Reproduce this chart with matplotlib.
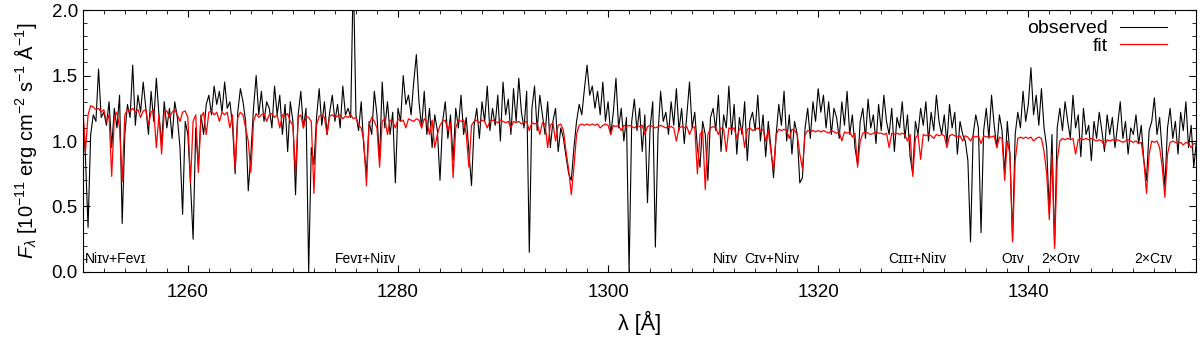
import numpy as np
import matplotlib
matplotlib.use("Agg")
import matplotlib.pyplot as plt
from matplotlib.ticker import MultipleLocator

plt.rcParams['font.family'] = ['Liberation Sans', 'DejaVu Sans']
plt.rcParams['mathtext.fontset'] = 'custom'
plt.rcParams['mathtext.rm'] = 'Liberation Sans'
plt.rcParams['mathtext.it'] = 'Liberation Sans:italic'

# spectrum sampled every 0.25 A starting at 1250 A
wave_start = 1250.0
wave_step = 0.25

observed = [
    1.22, 0.88, 0.34, 1.05, 1.20, 1.15, 1.55, 1.18,
    1.22, 1.12, 1.30, 0.95, 1.25, 1.10, 1.35, 0.37,
    1.05, 1.28, 1.18, 1.58, 1.12, 1.35, 1.22, 1.45,
    1.25, 1.05, 1.38, 1.15, 1.48, 1.20, 0.98, 1.30,
    1.10, 1.25, 1.02, 1.30, 1.18, 0.95, 0.44, 1.15,
    1.05, 0.68, 0.25, 1.10, 0.80, 1.20, 1.05, 1.28,
    1.35, 1.20, 1.42, 1.28, 1.38, 1.22, 1.45, 1.25,
    1.30, 1.12, 0.75, 1.22, 1.40, 1.30, 1.15, 0.62,
    0.90, 1.25, 1.50, 1.20, 1.38, 1.15, 1.30, 1.25,
    1.10, 1.42, 1.20, 1.35, 1.05, 1.28, 0.92, 1.30,
    1.15, 0.59, 1.20, 1.38, 1.10, 1.25, 0.00, 0.95,
    0.82, 1.18, 1.40, 1.12, 1.30, 1.05, 1.22, 1.35,
    1.15, 1.28, 1.10, 1.42, 1.20, 1.25, 1.18, 2.30,
    1.20, 1.08, 1.30, 0.95, 0.75, 1.15, 1.05, 1.38,
    1.20, 0.85, 1.45, 1.10, 1.30, 1.05, 1.22, 0.68,
    1.25, 1.15, 1.50, 1.28, 1.35, 1.20, 1.45, 1.66,
    1.30, 1.10, 1.38, 1.05, 1.25, 0.95, 1.20, 1.08,
    0.70, 1.15, 1.30, 1.02, 1.20, 0.85, 1.25, 1.10,
    1.35, 1.05, 1.18, 0.92, 0.66, 1.12, 1.25, 1.02,
    1.30, 1.15, 1.42, 1.08, 1.25, 1.12, 1.35, 1.00,
    1.45, 1.20, 1.32, 1.05, 1.40, 1.15, 1.48, 1.22,
    1.10, 1.38, 0.15, 1.25, 1.42, 1.08, 1.35, 1.20,
    1.05, 1.30, 0.95, 1.15, 1.25, 0.92, 1.10, 1.02,
    0.88, 0.75, 0.70, 0.95, 1.15, 1.28, 1.20, 1.40,
    1.58, 1.35, 1.42, 1.25, 1.38, 1.20, 1.45, 1.15,
    1.30, 1.05, 1.22, 1.48, 1.10, 1.25, 1.00, 1.18,
    0.00, 1.15, 1.32, 1.08, 1.25, 0.92, 1.20, 0.53,
    1.10, 1.30, 0.19, 1.05, 1.38, 1.15, 1.22, 1.05,
    1.30, 1.12, 1.40, 1.08, 1.25, 0.98, 1.20, 1.45,
    1.10, 1.22, 0.95, 0.80, 1.15, 1.05, 0.70, 1.18,
    1.25, 1.08, 1.35, 0.92, 1.20, 1.10, 1.42, 1.05,
    1.28, 0.90, 1.18, 1.05, 1.30, 0.85, 1.15, 1.22,
    1.08, 1.35, 1.00, 1.20, 0.88, 1.15, 0.95, 0.72,
    1.05, 1.28, 1.12, 1.38, 1.00, 1.20, 0.90, 1.15,
    1.05, 0.68, 0.72, 1.10, 1.25, 1.02, 1.30, 1.15,
    1.40, 1.22, 1.35, 1.10, 1.30, 1.05, 1.25, 1.18,
    1.02, 1.30, 1.12, 1.38, 1.05, 1.20, 0.95, 0.82,
    1.15, 1.25, 1.02, 1.32, 1.10, 1.20, 0.98, 1.28,
    1.08, 1.35, 1.15, 1.05, 1.25, 0.92, 1.18, 1.10,
    1.30, 1.02, 1.20, 0.88, 0.75, 1.15, 1.05, 1.25,
    1.12, 1.30, 1.00, 1.22, 1.08, 1.35, 1.15, 1.05,
    1.20, 0.98, 1.28, 1.10, 1.22, 0.90, 1.15, 1.05,
    1.00, 0.85, 0.23, 1.05, 1.20, 1.10, 0.30, 1.08,
    1.25, 1.02, 1.35, 1.12, 0.95, 1.20, 1.08, 0.75,
    1.15, 0.90, 0.25, 1.05, 1.22, 1.10, 1.38, 1.15,
    1.28, 1.56, 1.20, 1.35, 1.12, 1.40, 1.10, 0.95,
    0.45, 1.05, 0.20, 1.10, 1.25, 1.08, 1.30, 1.15,
    1.02, 1.35, 1.10, 1.20, 0.88, 1.25, 1.05, 1.12,
    0.85, 1.15, 1.02, 1.22, 1.08, 0.92, 1.20, 1.05,
    1.18, 0.95, 1.12, 1.30, 1.02, 1.15, 0.90, 1.10,
    1.05, 1.20, 0.98, 1.12, 0.85, 0.70, 1.08, 1.15,
    1.33, 1.05, 1.18, 0.92, 0.65, 1.10, 1.25, 1.02,
    1.15, 0.90, 1.22, 1.08, 1.30, 0.95, 1.12, 0.80,
    1.00,
]

fit = [
    1.26, 0.92, 1.20, 1.27, 1.26, 1.24, 1.25, 1.22,
    1.24, 1.15, 1.20, 0.73, 1.18, 1.22, 1.10, 0.69,
    1.20, 1.24, 1.23, 1.25, 1.22, 1.24, 1.18, 1.23,
    1.24, 1.12, 1.22, 1.24, 0.95, 1.20, 0.90, 1.22,
    1.23, 1.18, 1.22, 1.24, 1.20, 1.15, 1.22, 1.23,
    1.18, 0.68, 1.15, 1.20, 0.76, 1.18, 1.22, 1.05,
    1.22, 1.23, 1.20, 1.22, 1.15, 1.22, 1.20, 1.22,
    1.10, 1.20, 0.78, 1.18, 1.22, 1.20, 1.10, 1.00,
    0.76, 1.15, 1.21, 1.18, 1.20, 1.21, 1.15, 1.20,
    1.21, 1.18, 1.20, 1.10, 1.20, 1.19, 1.21, 1.15,
    1.12, 0.75, 1.18, 1.20, 1.10, 1.19, 1.18, 1.15,
    0.60, 1.12, 1.19, 1.20, 1.18, 1.05, 1.19, 1.20,
    1.18, 1.19, 1.20, 1.17, 1.19, 1.18, 1.20, 1.17,
    1.18, 1.12, 1.10, 1.00, 0.66, 1.12, 1.18, 1.15,
    1.10, 0.80, 1.15, 1.17, 1.05, 1.16, 1.15, 1.10,
    1.17, 1.15, 1.16, 1.10, 1.17, 1.16, 1.15, 1.17,
    1.16, 1.10, 1.17, 1.15, 1.05, 1.16, 0.95, 1.05,
    1.12, 1.15, 1.16, 1.08, 1.14, 0.72, 1.10, 1.16,
    1.15, 1.16, 1.05, 0.80, 1.12, 1.15, 1.16, 1.14,
    1.16, 1.15, 1.10, 1.15, 1.16, 1.15, 1.14, 1.16,
    1.15, 1.14, 1.15, 1.10, 1.15, 1.14, 1.15, 1.13,
    1.14, 1.15, 1.08, 1.14, 1.13, 1.14, 1.05, 1.14,
    1.13, 0.95, 1.12, 1.14, 1.00, 1.12, 1.13, 1.08,
    0.92, 0.78, 0.59, 0.80, 1.05, 1.12, 1.13, 1.12,
    1.13, 1.12, 1.13, 1.12, 1.13, 1.10, 1.12, 1.13,
    1.12, 1.05, 1.12, 1.11, 1.12, 1.08, 1.12, 1.11,
    1.12, 1.11, 1.10, 1.12, 1.11, 1.12, 1.05, 1.11,
    1.12, 1.11, 1.10, 1.11, 1.12, 1.11, 1.10, 1.11,
    1.11, 1.10, 1.00, 1.10, 1.11, 1.10, 1.11, 1.05,
    1.10, 1.11, 0.75, 1.05, 1.08, 0.63, 1.05, 1.10,
    1.11, 1.10, 1.05, 1.10, 1.09, 0.92, 1.10, 1.09,
    1.10, 1.02, 1.09, 1.10, 0.95, 1.09, 1.10, 1.08,
    1.09, 1.10, 1.08, 1.09, 1.00, 1.08, 0.92, 0.78,
    1.05, 1.09, 1.08, 1.09, 1.08, 1.02, 1.09, 1.08,
    1.05, 0.90, 0.79, 1.05, 1.08, 1.07, 1.08, 1.07,
    1.08, 1.07, 1.08, 1.07, 1.06, 1.08, 1.07, 1.06,
    1.07, 1.00, 1.07, 1.06, 1.07, 1.03, 1.06, 0.80,
    1.00, 1.06, 1.07, 1.06, 1.05, 1.06, 1.07, 1.06,
    1.06, 1.05, 1.06, 0.95, 1.06, 1.05, 1.06, 1.05,
    1.06, 1.05, 1.00, 1.05, 0.73, 1.02, 1.05, 0.86,
    1.05, 1.04, 1.05, 1.04, 1.02, 1.05, 1.04, 1.05,
    1.04, 0.95, 1.04, 1.05, 1.04, 1.03, 1.04, 1.00,
    1.04, 1.03, 1.00, 1.04, 1.03, 1.04, 0.98, 1.04,
    1.03, 1.04, 1.03, 1.04, 0.95, 1.03, 1.02, 0.70,
    1.00, 0.90, 0.23, 0.85, 1.02, 1.03, 1.02, 1.03,
    1.02, 1.03, 1.00, 1.02, 1.03, 1.02, 0.92, 0.75,
    0.40, 0.90, 0.18, 0.85, 1.00, 1.02, 1.01, 1.02,
    1.01, 1.02, 0.90, 1.01, 1.02, 1.01, 1.02, 1.01,
    1.02, 1.01, 1.00, 1.01, 1.00, 0.96, 1.01, 1.00,
    1.01, 1.00, 1.01, 1.00, 0.99, 1.00, 1.01, 1.00,
    0.99, 1.00, 0.98, 0.99, 0.85, 0.60, 0.90, 1.00,
    0.99, 1.00, 0.95, 0.80, 0.57, 0.90, 0.99, 1.00,
    0.99, 0.98, 0.99, 0.97, 0.99, 0.98, 0.95, 0.98,
    0.98,
]

# line identifications along the bottom of the panel
line_ids = ['Niɪᴠ+Feᴠɪ', 'Feᴠɪ+Niɪᴠ', 'Niɪᴠ', 'Cɪᴠ+Niɪᴠ', 'Cɪɪɪ+Niɪᴠ',
            'Oɪᴠ', '2×Oɪᴠ', '2×Cɪᴠ']
line_pos = [1250.2, 1274.0, 1310.0, 1313.0, 1326.7, 1337.4, 1341.2, 1350.1]

wave = wave_start + wave_step * np.arange(len(observed))

fig = plt.figure(figsize=(12, 3.37), dpi=100)
ax = fig.add_axes([0.069, 0.193, 0.928, 0.777])

ax.plot(wave, observed, color='black', lw=0.8, label='observed')
ax.plot(wave, fit, color='red', lw=0.9, label='fit')

for lab, x in zip(line_ids, line_pos):
    ax.text(x, 0.045, lab, fontsize=10, ha='left', va='bottom')

ax.set_xlim(1250, 1356)
ax.set_ylim(0, 2.0)
ax.xaxis.set_major_locator(MultipleLocator(20))
ax.xaxis.set_minor_locator(MultipleLocator(2))
ax.yaxis.set_major_locator(MultipleLocator(0.5))
ax.yaxis.set_minor_locator(MultipleLocator(0.1))
ax.yaxis.set_major_formatter(plt.FormatStrFormatter('%.1f'))
ax.tick_params(which='both', direction='in', top=True, right=True, labelsize=13.5)
ax.tick_params(which='major', length=5)
ax.tick_params(which='minor', length=3)
ax.tick_params(axis='x', pad=9)

ax.set_xlabel('λ [Å]', fontsize=15.5, labelpad=7)
ax.set_ylabel(r'$F_\lambda$ [10$^{-11}$ erg cm$^{-2}$ s$^{-1}$ Å$^{-1}$]', fontsize=14.5,
              labelpad=9)

ax.legend(loc='upper right', bbox_to_anchor=(0.982, 1.0), frameon=False,
          markerfirst=False, fontsize=14, handlelength=2.4, labelspacing=0.0,
          borderaxespad=0.1, handletextpad=0.6)

fig.savefig('out.png', dpi=100)
